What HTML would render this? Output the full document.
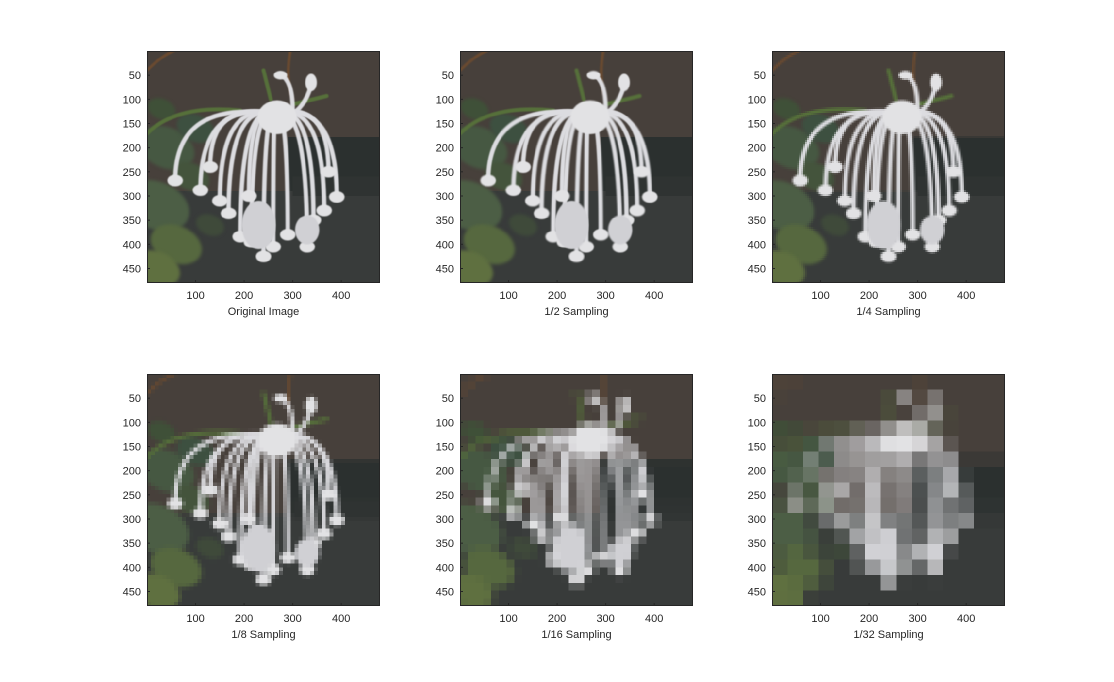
<!DOCTYPE html>
<html><head><meta charset="utf-8"><style>
body{margin:0;background:#fff;width:1114px;height:682px;overflow:hidden;position:relative;font-family:"Liberation Sans","Noto Sans CJK JP",sans-serif;}
canvas{position:absolute;image-rendering:pixelated;}
svg{position:absolute;left:0;top:0;}
</style></head><body>
<div id="root"></div>
<svg id="ov" width="1114" height="682"></svg>
<script>
const factors=[1,2,4,8,16,32];
const titles=["Original Image","1/2 Sampling","1/4 Sampling","1/8 Sampling","1/16 Sampling","1/32 Sampling"];
const xTicks=[100,200,300,400];
const yTicks=[50,100,150,200,250,300,350,400,450];
const axLeft=[147,460,772], axTop=[51,374], AW=233, AH=232, N=480;
const strandEnds=[[58,268],[110,288],[150,310],[168,336],[192,384],[215,395],[240,425],[260,405],[290,380],[330,405],[343,350],[365,330],[391,302],[374,250],[130,240],[210,300]];
function drawFlower(c){
  c.fillStyle="#47403b";c.fillRect(0,0,N,N);
  c.fillStyle="#2b302f";c.fillRect(290,178,190,120);
  c.fillStyle="#383b3a";c.fillRect(0,290,480,190);
  c.fillStyle="#2f3332";c.fillRect(300,260,180,40);
  c.filter="blur(3px)";
  const leaves=[[40,200,60,"#465842"],[20,320,70,"#4c5e45"],[60,400,55,"#56683f"],[20,450,50,"#5f7040"],[100,160,40,"#3d5040"],[90,260,40,"#44543c"],[130,360,30,"#3f4a3a"],[30,120,30,"#3f5038"]];
  leaves.forEach(l=>{c.fillStyle=l[3];c.beginPath();c.ellipse(l[0],l[1],l[2],l[2]*0.7,0.4,0,7);c.fill();});
  c.filter="blur(1px)";
  c.lineCap="round";
  c.strokeStyle="#6a4a30";c.lineWidth=6;
  c.beginPath();c.moveTo(295,0);c.quadraticCurveTo(285,60,300,100);c.stroke();
  c.beginPath();c.moveTo(0,40);c.quadraticCurveTo(30,10,55,0);c.stroke();
  c.strokeStyle="#56703a";c.lineWidth=8;
  c.beginPath();c.moveTo(0,171);c.quadraticCurveTo(60,110,192,123);c.stroke();
  c.beginPath();c.moveTo(302,110);c.lineTo(370,93);c.stroke();
  c.beginPath();c.moveTo(240,40);c.lineTo(255,100);c.stroke();
  c.strokeStyle="#dcdce0";c.lineWidth=9;
  strandEnds.forEach(e=>{
    c.beginPath();c.moveTo(265,130);
    const mx=(265+e[0])/2+(e[0]-265)*0.5, my=100;
    c.quadraticCurveTo(mx,my,e[0],e[1]);c.stroke();
  });
  c.beginPath();c.moveTo(274,48);c.quadraticCurveTo(300,60,300,120);c.stroke();
  c.beginPath();c.moveTo(340,62);c.quadraticCurveTo(330,110,300,130);c.stroke();
  c.fillStyle="#e2e2e4";
  c.beginPath();c.ellipse(268,137,40,35,0,0,7);c.fill();
  c.beginPath();c.ellipse(275,50,14,9,0,0,7);c.fill();
  c.beginPath();c.ellipse(338,65,12,18,0,0,7);c.fill();
  strandEnds.forEach(e=>{c.beginPath();c.ellipse(e[0],e[1],16,12,0,0,7);c.fill();});
  c.fillStyle="#d0d0d4";
  c.beginPath();c.ellipse(230,360,35,50,0,0,7);c.fill();
  c.beginPath();c.ellipse(330,370,25,30,0,0,7);c.fill();
  c.filter="none";
}
const src=document.createElement('canvas');src.width=N;src.height=N;
const sctx=src.getContext('2d');
drawFlower(sctx);
const srcData=sctx.getImageData(0,0,N,N).data;
const root=document.getElementById('root');
const ov=document.getElementById('ov');
const NS="http://www.w3.org/2000/svg";
function sv(tag,a){const e=document.createElementNS(NS,tag);for(const k in a)e.setAttribute(k,a[k]);ov.appendChild(e);return e;}
factors.forEach((f,i)=>{
  const L=axLeft[i%3],T=axTop[Math.floor(i/3)];
  const cv=document.createElement('canvas');cv.width=N;cv.height=N;
  cv.style.left=L+'px';cv.style.top=T+'px';cv.style.width=AW+'px';cv.style.height=AH+'px';
  const cc=cv.getContext('2d');
  if(f===1){cc.drawImage(src,0,0);}
  else{
    const out=cc.createImageData(N,N);
    for(let by=0;by<N;by+=f)for(let bx=0;bx<N;bx+=f){
      let r=0,g=0,b=0,n=0;
      for(let y=by;y<Math.min(by+f,N);y++)for(let x=bx;x<Math.min(bx+f,N);x++){const k=(y*N+x)*4;r+=srcData[k];g+=srcData[k+1];b+=srcData[k+2];n++;}
      r/=n;g/=n;b/=n;
      for(let y=by;y<Math.min(by+f,N);y++)for(let x=bx;x<Math.min(bx+f,N);x++){const k=(y*N+x)*4;out.data[k]=r;out.data[k+1]=g;out.data[k+2]=b;out.data[k+3]=255;}
    }
    cc.putImageData(out,0,0);
  }
  
  
  root.appendChild(cv);
  const box=sv('rect',{x:L+0.5,y:T+0.5,width:AW-1,height:AH-1,fill:'none',stroke:'#262626','stroke-width':1});
  
  
  const xs=AW/N, ys=AH/N;
  xTicks.forEach(v=>{
    const x=L+v*xs;
    sv('line',{x1:x,y1:T+AH,x2:x,y2:T+AH-3,stroke:'#262626'});
    const t=sv('text',{x:x,y:T+AH+16,'text-anchor':'middle','font-size':11,fill:'#262626'});t.textContent=v;
    
    
  });
  yTicks.forEach(v=>{
    const y=T+v*ys;
    sv('line',{x1:L,y1:y,x2:L+3,y2:y,stroke:'#262626'});
    const t=sv('text',{x:L-6,y:y+4,'text-anchor':'end','font-size':11,fill:'#262626'});t.textContent=v;
    
    
  });
  const tt=sv('text',{x:L+AW/2,y:T+AH+32,'text-anchor':'middle','font-size':11,fill:'#262626'});tt.textContent=titles[i];
  
  
});
</script>
</body></html>
